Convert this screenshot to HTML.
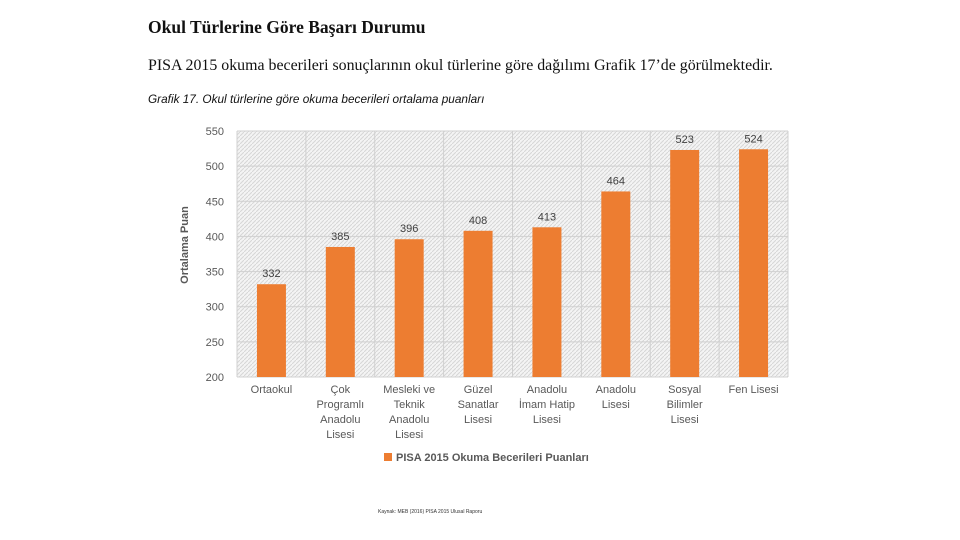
<!DOCTYPE html>
<html><head><meta charset="utf-8"><style>
body{margin:0;width:960px;height:540px;background:#fff;overflow:hidden;position:relative;font-family:"Liberation Sans",sans-serif}
.t{position:absolute;white-space:nowrap}
</style></head><body>
<div class="t" style="left:148px;top:17px;font:bold 17.5px 'Liberation Serif',serif;color:#111">Okul Türlerine Göre Başarı Durumu</div>
<div class="t" style="left:148px;top:57px;font:15.9px 'Liberation Serif',serif;color:#111">PISA 2015 okuma becerileri sonuçlarının okul türlerine göre dağılımı Grafik 17’de görülmektedir.</div>
<div class="t" style="left:148px;top:92px;font:italic 11.8px 'Liberation Sans',sans-serif;color:#111">Grafik 17. Okul türlerine göre okuma becerileri ortalama puanları</div>
<svg id="c" width="960" height="540" style="position:absolute;left:0;top:0">
<defs><pattern id="h" width="4" height="4" patternUnits="userSpaceOnUse"><rect width="4" height="4" fill="#f4f4f4"/><path d="M0 4L4 0" stroke="#d6d6d6" stroke-width="1"/></pattern></defs>
</svg>
<div class="t" style="left:378px;top:509px;font:5px 'Liberation Sans',sans-serif;color:#333">Kaynak: MEB (2016) PISA 2015 Ulusal Raporu</div>
<script>
const categories=[["Ortaokul"],["Çok","Programlı","Anadolu","Lisesi"],["Mesleki ve","Teknik","Anadolu","Lisesi"],["Güzel","Sanatlar","Lisesi"],["Anadolu","İmam Hatip","Lisesi"],["Anadolu","Lisesi"],["Sosyal","Bilimler","Lisesi"],["Fen Lisesi"]];
const values=[332,385,396,408,413,464,523,524];
const ticks=[200,250,300,350,400,450,500,550];
const svg=document.getElementById('c');const NS='http://www.w3.org/2000/svg';
const L=237,R=788,T=131,B=377,yMin=200,yMax=550;
const y=v=>B-(v-yMin)/(yMax-yMin)*(B-T);
const bw=(R-L)/categories.length;const x=i=>L+bw*(i+0.5);
function mk(t,a){const e=document.createElementNS(NS,t);for(const k in a)e.setAttribute(k,a[k]);svg.appendChild(e);return e;}
const bg=mk('rect',{x:L,y:T,width:R-L,height:B-T,fill:'url(#h)'});


ticks.forEach(t=>{const g=mk('line',{x1:L,x2:R,y1:y(t),y2:y(t),stroke:'#d0d0d0'});


const lb=mk('text',{x:L-13,y:y(t)+4,'text-anchor':'end','font-size':11,fill:'#595959','font-family':'Liberation Sans'});lb.textContent=t;

});
for(let i=0;i<=categories.length;i++){const g=mk('line',{x1:L+bw*i,x2:L+bw*i,y1:T,y2:B,stroke:'#d0d0d0'});

}
values.forEach((v,i)=>{const r=mk('rect',{x:x(i)-14.5,y:y(v),width:29,height:B-y(v),fill:'#ed7d31'});


const lb=mk('text',{x:x(i),y:y(v)-7,'text-anchor':'middle','font-size':11,fill:'#404040','font-family':'Liberation Sans'});lb.textContent=v;


categories[i].forEach((s,j)=>{const c=mk('text',{x:x(i),y:B+16+j*15,'text-anchor':'middle','font-size':11,fill:'#595959','font-family':'Liberation Sans'});c.textContent=s;

});});
const yt=mk('text',{x:0,y:0,transform:'translate(188,245) rotate(-90)','text-anchor':'middle','font-size':11,'font-weight':'bold',fill:'#595959','font-family':'Liberation Sans'});yt.textContent='Ortalama Puan';


const lm=mk('rect',{x:384,y:453,width:8,height:8,fill:'#ed7d31'});


const lt=mk('text',{x:396,y:461,'font-size':11,'font-weight':'bold',fill:'#595959','font-family':'Liberation Sans'});lt.textContent='PISA 2015 Okuma Becerileri Puanları';


</script>
</body></html>
